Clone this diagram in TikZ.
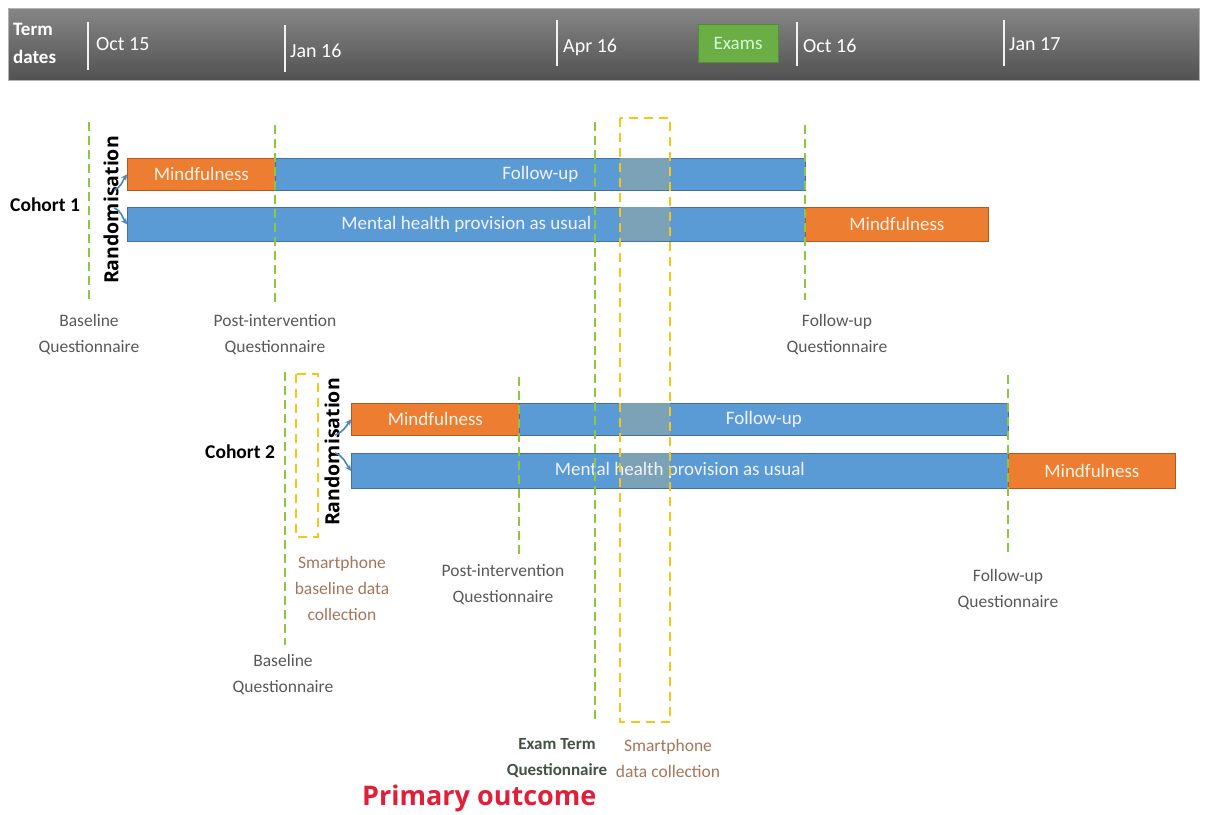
\documentclass[tikz,border=0pt]{standalone}
\usepackage{fontspec}
\setmainfont{Carlito}
\newfontfamily\randfont{Open Sans}
\newfontfamily\primfont{Open Sans}
\usetikzlibrary{arrows.meta,positioning}
\definecolor{orangebar}{HTML}{ED7D31}
\definecolor{bluebar}{HTML}{5B9BD5}
\definecolor{blueborder}{HTML}{41719C}
\definecolor{orangeborder}{HTML}{AE5A21}
\definecolor{ovcol}{HTML}{7FA3B3}
\definecolor{gdash}{HTML}{8DC63F}
\definecolor{ydash}{HTML}{F5C518}
\definecolor{labgray}{HTML}{595959}
\definecolor{smartbrown}{HTML}{A5765A}
\definecolor{examgreen}{HTML}{6AAE45}
\definecolor{primred}{HTML}{E0203A}
\definecolor{arrblue}{HTML}{4A86BE}
\definecolor{examtxt}{HTML}{445244}
\tikzset{
  barfont/.style={font=\fontsize{19}{21}\selectfont},
  orangebox/.style={fill=orangebar,draw=orangeborder,line width=0.8pt,inner sep=0pt,anchor=north west,text=white!90!orange,barfont},
  bluebox/.style={fill=bluebar,draw=blueborder,line width=0.8pt,inner sep=0pt,anchor=north west,text=white!95!blue,barfont},
  gline/.style={draw=gdash,line width=2.2pt,dash pattern=on 9pt off 5pt},
  yline/.style={draw=ydash,line width=2.2pt,dash pattern=on 9pt off 6pt},
  lab/.style={text=labgray,align=center,font=\fontsize{17.5}{26}\selectfont,inner sep=0pt},
  smart/.style={text=smartbrown,align=center,font=\fontsize{17.5}{26}\selectfont,inner sep=0pt},
  cohort/.style={font=\bfseries\fontsize{19.5}{21}\selectfont,inner sep=0pt},
  rand/.style={font=\randfont\bfseries\fontsize{19.5}{21}\selectfont,rotate=90,inner sep=0pt},
  datetxt/.style={text=white,font=\fontsize{20}{22}\selectfont,anchor=west,inner sep=0pt},
  tick/.style={draw=white!90!gray,line width=1.5pt},
  arr/.style={draw=arrblue,line width=1.6pt,-{Stealth[length=6pt,width=6pt]}}
}
\begin{document}
\begin{tikzpicture}[x=1pt,y=-1pt]
\useasboundingbox (0,0) rectangle (1206,814);
\fill[white] (0,0) rectangle (1206,814);
% top bar
\shade[top color=gray!95!white,bottom color=black!68,draw=gray!60] (8,8) rectangle (1199,80);
\node[datetxt,font=\bfseries\fontsize{19}{28}\selectfont,align=left,anchor=west] (term) at (13,43) {Term\\dates};
\draw[tick] (88,22) -- (88,70);
\draw[tick] (285,25) -- (285,72);
\draw[tick] (557,20) -- (557,66);
\draw[tick] (797,22) -- (797,66);
\draw[tick] (1004,20) -- (1004,66);
\node[datetxt] (d1) at (96,44) {Oct 15};
\node[datetxt] (d2) at (290,51) {Jan 16};
\node[datetxt] (d3) at (563,47) {Apr 16};
\node[datetxt] (d4) at (803,46) {Oct 16};
\node[datetxt] (d5) at (1009,44) {Jan 17};
\node[fill=examgreen,draw=examgreen!80!black,minimum width=80pt,minimum height=38pt,inner sep=0pt,text=green!15!white,barfont] (exams) at (738,43) {Exams};
% cohort 1 bars
\node[orangebox,minimum width=148pt,minimum height=32pt] (m1) at (127,158) {Mindfulness};
\node[bluebox,minimum width=530pt,minimum height=32pt] (f1) at (275,158) {Follow-up};
\node[bluebox,minimum width=678pt,minimum height=34pt] (u1) at (127,207) {Mental health provision as usual};
\node[orangebox,minimum width=183pt,minimum height=34pt] (m1b) at (805,207) {Mindfulness};
% cohort 2 bars
\node[orangebox,minimum width=168pt,minimum height=32pt] (m2) at (351,403) {Mindfulness};
\node[bluebox,minimum width=489pt,minimum height=32pt] (f2) at (519,403) {Follow-up};
\node[bluebox,minimum width=657pt,minimum height=35pt] (u2) at (351,453) {Mental health provision as usual};
\node[orangebox,minimum width=167pt,minimum height=35pt] (m2b) at (1008,453) {Mindfulness};
% shaded smartphone data collection window
\fill[ovcol,opacity=0.9] (620,158.4) rectangle (670,189.6);
\fill[ovcol,opacity=0.9] (620,207.4) rectangle (670,240.6);
\fill[ovcol,opacity=0.9] (620,403.4) rectangle (670,434.6);
\fill[ovcol,opacity=0.9] (620,453.4) rectangle (670,487.6);
\begin{scope}
\clip (620,453.4) rectangle (670,487.6);
\node[text=white!95!blue,barfont,inner sep=0pt] at (u2.center) {Mental health provision as usual};
\end{scope}
% green dashed lines
\draw[gline] (89,122) -- (89,302);
\draw[gline] (275,125) -- (275,305);
\draw[gline] (595,122) -- (595,720);
\draw[gline] (805,125) -- (805,300);
\draw[gline] (285,372) -- (285,645);
\draw[gline] (519,377) -- (519,555);
\draw[gline] (1008,375) -- (1008,555);
% yellow dashed rectangles
\draw[yline] (620,118) rectangle (670,722);
\draw[yline] (296,374) rectangle (318,537);
% randomisation
\node[rand] (r1) at (111,210) {Randomisation};
\node[rand] (r2) at (332,452) {Randomisation};
\coordinate (a1) at (114,190);
\coordinate (a2) at (114,208);
\coordinate (b1) at (335,435);
\coordinate (b2) at (335,453);
\draw[arr] (a1) to[out=20,in=235] (m1.west);
\draw[arr] (a2) to[out=-20,in=125] (u1.west);
\draw[arr] (b1) to[out=20,in=235] (m2.west);
\draw[arr] (b2) to[out=-20,in=125] (u2.west);
% cohort labels
\node[cohort,anchor=west] (c1) at (10,205) {Cohort 1};
\node[cohort,anchor=west] (c2) at (205,452) {Cohort 2};
% questionnaire labels
\node[lab] (bq1) at (89,335) {Baseline\\Questionnaire};
\node[lab] (pq1) at (275,335) {Post-intervention\\Questionnaire};
\node[lab] (fq1) at (837,335) {Follow-up\\Questionnaire};
\node[smart] (sb2) at (342,588) {Smartphone\\baseline data\\collection};
\node[lab] (pq2) at (503,585) {Post-intervention\\Questionnaire};
\node[lab] (fq2) at (1008,590) {Follow-up\\Questionnaire};
\node[lab] (bq2) at (283,675) {Baseline\\Questionnaire};
\node[lab,text=examtxt,font=\bfseries\fontsize{17}{26}\selectfont] (eq) at (557,758) {Exam Term\\Questionnaire};
\node[smart] (sd) at (668,758) {Smartphone\\data collection};
\node[text=primred,font=\primfont\bfseries\fontsize{27}{29}\selectfont,inner sep=0pt,anchor=west] (po) at (362,798) {Primary outcome};
\end{tikzpicture}
\end{document}
